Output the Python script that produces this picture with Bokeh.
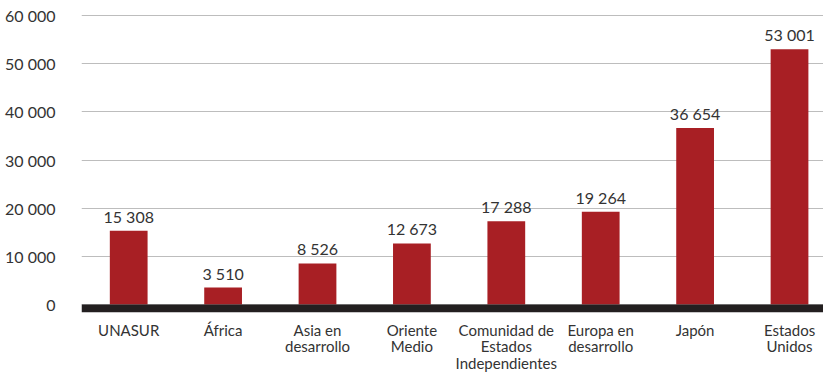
from bokeh.plotting import figure
from bokeh.models import ColumnDataSource, FixedTicker, BoxAnnotation, LabelSet
from bokeh.core.properties import value
from bokeh.embed import file_html
from bokeh.resources import INLINE

categories = ["UNASUR", "África", "Asia en\ndesarrollo", "Oriente\nMedio",
              "Comunidad de\nEstados\nIndependientes", "Europa en\ndesarrollo",
              "Japón", "Estados\nUnidos"]
values = [15308, 3510, 8526, 12673, 17288, 19264, 36654, 53001]
y_ticks = [0, 10000, 20000, 30000, 40000, 50000, 60000]

def fmt(v):
    return f"{v:,}".replace(",", " ")

idx = list(range(len(categories)))
src = ColumnDataSource(dict(x=idx, top=values, label=[fmt(v) for v in values]))

FONT = "Lato"
p = figure(width=823, height=374, output_backend="svg", toolbar_location=None,
           x_range=(-0.5, 7.36), y_range=(-1655, 61034),
           min_border_left=81, min_border_right=0, min_border_top=10,
           min_border_bottom=61)
p.outline_line_color = None
p.background_fill_color = "white"

p.vbar(x="x", top="top", width=0.40, bottom=0, source=src,
       fill_color="#a81f24", line_color=None)

p.add_layout(BoxAnnotation(top=0, fill_color="#231f20", fill_alpha=1,
                           line_color=None))

labels = LabelSet(x="x", y="top", text="label", source=src, y_offset=5,
                  text_align="center", text_baseline="bottom",
                  text_font=value(FONT), text_font_size="16px",
                  text_color="#333333")
p.add_layout(labels)

p.yaxis.ticker = FixedTicker(ticks=y_ticks)
p.yaxis.major_label_overrides = {t: fmt(t) for t in y_ticks}
p.yaxis.axis_line_color = None
p.yaxis.major_tick_line_color = None
p.yaxis.minor_tick_line_color = None
p.yaxis.major_label_standoff = 20
p.yaxis.major_label_text_font = FONT
p.yaxis.major_label_text_font_size = "16px"
p.yaxis.major_label_text_color = "#333333"

p.xaxis.ticker = FixedTicker(ticks=idx)
p.xaxis.major_label_overrides = {i: c for i, c in zip(idx, categories)}
p.xaxis.axis_line_color = None
p.xaxis.major_tick_line_color = None
p.xaxis.minor_tick_line_color = None
p.xaxis.major_label_standoff = 2
p.xaxis.major_label_text_font = FONT
p.xaxis.major_label_text_font_size = "15px"
p.xaxis.major_label_text_color = "#333333"
p.xaxis.major_label_text_line_height = 0.92

p.xgrid.grid_line_color = None
p.ygrid.ticker = FixedTicker(ticks=y_ticks)
p.ygrid.grid_line_color = "#bdbdbd"
p.ygrid.grid_line_width = 1

open("out.html", "w").write(file_html(p, INLINE))
